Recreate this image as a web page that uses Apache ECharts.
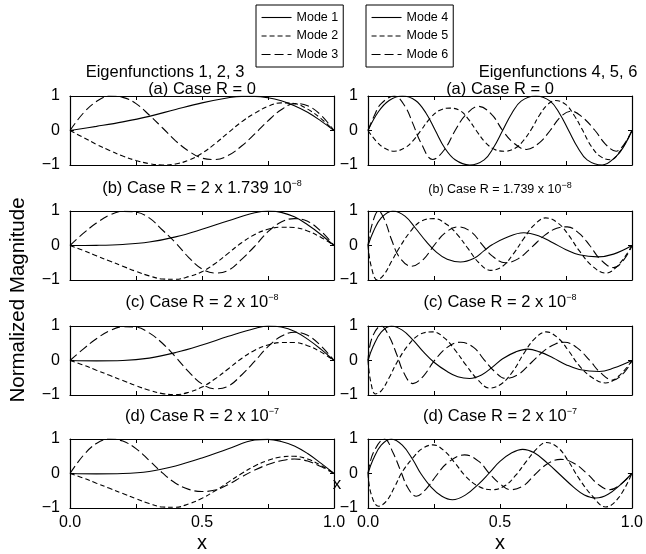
<!DOCTYPE html>
<html>
<head>
<meta charset="utf-8">
<script src="https://cdn.jsdelivr.net/npm/echarts@6/dist/echarts.min.js"></script>
<style>
  html, body { margin: 0; padding: 0; background: #fff; }
  #chart { width: 646px; height: 554px; }
</style>
</head>
<body>
<div id="chart"></div>
<script>
// eigenfunction samples [x, normalized magnitude]

// (a) Case R = 0
const mode1a = [[0,0],[0.1,0.12],[0.2,0.25],[0.3,0.41],[0.4,0.61],[0.5,0.8],[0.6,0.95],[0.65,0.99],[0.7,0.99],[0.75,0.95],[0.8,0.86],[0.85,0.72],[0.9,0.53],[0.95,0.28],[1,0]];
const mode2a = [[0,0],[0.05,-0.2],[0.1,-0.4],[0.15,-0.58],[0.2,-0.74],[0.25,-0.87],[0.3,-0.96],[0.35,-1],[0.4,-0.97],[0.45,-0.86],[0.5,-0.66],[0.55,-0.38],[0.6,-0.06],[0.65,0.25],[0.7,0.5],[0.75,0.7],[0.8,0.8],[0.85,0.78],[0.9,0.62],[0.95,0.35],[1,0]];
const mode3a = [[0,0],[0.05,0.5],[0.1,0.84],[0.15,1],[0.2,0.96],[0.25,0.78],[0.3,0.45],[0.35,0.08],[0.4,-0.3],[0.45,-0.6],[0.5,-0.8],[0.55,-0.84],[0.6,-0.72],[0.65,-0.45],[0.7,-0.1],[0.75,0.28],[0.8,0.6],[0.85,0.78],[0.9,0.72],[0.95,0.45],[1,0]];
const mode4a = [[0,0],[0.04,0.55],[0.08,0.87],[0.13,1],[0.18,0.87],[0.22,0.5],[0.255,0],[0.29,-0.5],[0.33,-0.85],[0.385,-1],[0.44,-0.85],[0.475,-0.5],[0.51,0],[0.545,0.5],[0.58,0.85],[0.635,1],[0.69,0.85],[0.725,0.5],[0.76,0],[0.795,-0.5],[0.83,-0.85],[0.887,-1],[0.94,-0.75],[0.97,-0.45],[1,0]];
const mode5a = [[0,0],[0.03,-0.3],[0.06,-0.5],[0.1,-0.6],[0.14,-0.5],[0.17,-0.3],[0.2,0],[0.235,0.35],[0.27,0.58],[0.31,0.65],[0.35,0.57],[0.38,0.33],[0.41,0],[0.445,-0.35],[0.48,-0.55],[0.52,-0.6],[0.56,-0.5],[0.59,-0.28],[0.62,0.05],[0.65,0.45],[0.68,0.75],[0.71,0.87],[0.75,0.75],[0.78,0.45],[0.81,0.05],[0.845,-0.45],[0.88,-0.75],[0.92,-0.85],[0.955,-0.6],[0.98,-0.3],[1,0]];
const mode6a = [[0,0],[0.025,0.45],[0.05,0.78],[0.1,1],[0.14,0.7],[0.17,0.2],[0.2,-0.35],[0.245,-0.84],[0.29,-0.55],[0.33,0],[0.37,0.45],[0.42,0.7],[0.47,0.45],[0.51,0],[0.55,-0.35],[0.6,-0.55],[0.65,-0.35],[0.69,0],[0.73,0.4],[0.77,0.56],[0.81,0.4],[0.86,0],[0.9,-0.4],[0.94,-0.6],[0.97,-0.4],[1,0]];

// (b) Case R = 2 x 1.739e-8 (left) / 1.739e-8 (right)
const mode1b = [[0,0],[0.1,0.005],[0.2,0.03],[0.3,0.1],[0.4,0.25],[0.5,0.47],[0.6,0.72],[0.7,0.95],[0.75,1],[0.8,0.96],[0.85,0.83],[0.9,0.6],[0.95,0.32],[1,0]];
const mode2b = [[0,0],[0.05,-0.14],[0.1,-0.3],[0.15,-0.45],[0.2,-0.6],[0.25,-0.75],[0.3,-0.88],[0.35,-0.97],[0.4,-0.98],[0.45,-0.9],[0.5,-0.76],[0.55,-0.52],[0.6,-0.22],[0.65,0.08],[0.7,0.32],[0.75,0.47],[0.8,0.53],[0.85,0.52],[0.9,0.42],[0.95,0.24],[1,0]];
const mode3b = [[0,0],[0.05,0.35],[0.1,0.65],[0.15,0.88],[0.2,0.99],[0.25,0.97],[0.3,0.8],[0.35,0.45],[0.4,0.08],[0.45,-0.35],[0.5,-0.68],[0.55,-0.8],[0.6,-0.72],[0.65,-0.4],[0.7,-0.02],[0.75,0.4],[0.8,0.68],[0.85,0.78],[0.9,0.7],[0.95,0.42],[1,0]];
const mode4b = [[0,0],[0.02,0.4],[0.05,0.8],[0.094,1],[0.14,0.85],[0.18,0.5],[0.22,0.12],[0.26,-0.2],[0.3,-0.4],[0.35,-0.48],[0.4,-0.38],[0.44,-0.15],[0.47,0.02],[0.52,0.22],[0.59,0.37],[0.65,0.27],[0.7,0.08],[0.75,-0.12],[0.8,-0.27],[0.87,-0.33],[0.93,-0.25],[1,0]];
const mode5b = [[0,0],[0.012,-0.6],[0.035,-1],[0.06,-0.85],[0.09,-0.45],[0.12,-0.05],[0.16,0.4],[0.2,0.7],[0.25,0.78],[0.3,0.6],[0.34,0.3],[0.38,-0.1],[0.42,-0.5],[0.465,-0.72],[0.51,-0.6],[0.55,-0.25],[0.59,0.2],[0.63,0.6],[0.673,0.8],[0.72,0.65],[0.76,0.3],[0.8,-0.15],[0.85,-0.6],[0.9,-0.8],[0.95,-0.55],[1,0]];
const mode6b = [[0,0],[0.015,0.6],[0.04,1],[0.065,0.7],[0.09,0.15],[0.12,-0.35],[0.165,-0.6],[0.21,-0.4],[0.25,0],[0.29,0.35],[0.34,0.54],[0.39,0.4],[0.43,0.05],[0.47,-0.3],[0.52,-0.5],[0.57,-0.38],[0.62,-0.05],[0.67,0.3],[0.715,0.5],[0.755,0.54],[0.8,0.35],[0.84,0],[0.88,-0.4],[0.93,-0.64],[0.97,-0.4],[1,0]];

// (c) Case R = 2e-8
const mode1c = [[0,0],[0.1,-0.01],[0.2,0],[0.3,0.07],[0.4,0.23],[0.5,0.45],[0.6,0.7],[0.7,0.93],[0.75,1],[0.8,0.97],[0.85,0.85],[0.9,0.62],[0.95,0.33],[1,0]];
const mode2c = [[0,0],[0.05,-0.13],[0.1,-0.28],[0.15,-0.43],[0.2,-0.58],[0.25,-0.73],[0.3,-0.86],[0.35,-0.96],[0.4,-0.99],[0.45,-0.92],[0.5,-0.77],[0.55,-0.53],[0.6,-0.24],[0.65,0.06],[0.7,0.3],[0.75,0.45],[0.8,0.52],[0.85,0.52],[0.9,0.43],[0.95,0.25],[1,0]];
const mode3c = [[0,0],[0.05,0.33],[0.1,0.63],[0.15,0.86],[0.2,0.98],[0.25,0.97],[0.3,0.8],[0.35,0.5],[0.4,0.1],[0.45,-0.33],[0.5,-0.68],[0.55,-0.82],[0.6,-0.74],[0.65,-0.42],[0.7,-0.02],[0.75,0.4],[0.8,0.7],[0.85,0.82],[0.9,0.73],[0.95,0.43],[1,0]];
const mode4c = [[0,0],[0.02,0.42],[0.05,0.82],[0.088,1],[0.13,0.88],[0.17,0.6],[0.21,0.25],[0.25,-0.05],[0.3,-0.32],[0.34,-0.47],[0.385,-0.52],[0.43,-0.42],[0.47,-0.2],[0.51,0.05],[0.56,0.25],[0.605,0.33],[0.65,0.25],[0.7,0.08],[0.75,-0.12],[0.8,-0.26],[0.876,-0.32],[0.93,-0.22],[1,0]];
const mode5c = [[0,0],[0.01,-0.6],[0.028,-0.97],[0.05,-0.88],[0.08,-0.5],[0.11,-0.05],[0.15,0.42],[0.195,0.75],[0.246,0.83],[0.29,0.65],[0.33,0.3],[0.37,-0.12],[0.415,-0.55],[0.46,-0.8],[0.505,-0.68],[0.55,-0.3],[0.59,0.2],[0.63,0.62],[0.675,0.83],[0.72,0.65],[0.76,0.28],[0.8,-0.15],[0.85,-0.5],[0.9,-0.65],[0.95,-0.45],[1,0]];
const mode6c = [[0,0],[0.015,0.65],[0.05,1],[0.08,0.7],[0.11,0.15],[0.135,-0.35],[0.17,-0.67],[0.21,-0.45],[0.25,-0.02],[0.3,0.38],[0.35,0.53],[0.4,0.38],[0.44,0.02],[0.48,-0.32],[0.52,-0.52],[0.57,-0.4],[0.62,-0.05],[0.67,0.3],[0.71,0.48],[0.745,0.53],[0.79,0.38],[0.84,0],[0.88,-0.35],[0.927,-0.57],[0.97,-0.35],[1,0]];

// (d) Case R = 2e-7
const mode1d = [[0,0],[0.1,-0.01],[0.2,0],[0.3,0.06],[0.4,0.22],[0.5,0.45],[0.6,0.72],[0.7,0.97],[0.75,0.99],[0.8,0.93],[0.85,0.8],[0.9,0.58],[0.95,0.3],[1,0]];
const mode2d = [[0,0],[0.05,-0.13],[0.1,-0.28],[0.15,-0.43],[0.2,-0.58],[0.25,-0.73],[0.3,-0.87],[0.35,-0.97],[0.4,-0.98],[0.45,-0.88],[0.5,-0.72],[0.55,-0.5],[0.6,-0.25],[0.65,0],[0.7,0.22],[0.75,0.38],[0.8,0.48],[0.85,0.5],[0.9,0.42],[0.95,0.24],[1,0]];
const mode3d = [[0,0],[0.05,0.52],[0.1,0.87],[0.15,1],[0.2,0.94],[0.25,0.72],[0.3,0.38],[0.35,0.02],[0.4,-0.28],[0.45,-0.46],[0.5,-0.52],[0.55,-0.48],[0.6,-0.32],[0.65,-0.1],[0.7,0.1],[0.75,0.26],[0.8,0.37],[0.85,0.42],[0.9,0.36],[0.95,0.2],[1,0]];
const mode4d = [[0,0],[0.02,0.42],[0.05,0.82],[0.088,1],[0.13,0.82],[0.17,0.4],[0.2,0],[0.24,-0.4],[0.28,-0.66],[0.32,-0.76],[0.37,-0.62],[0.42,-0.3],[0.46,0.02],[0.5,0.35],[0.545,0.6],[0.586,0.7],[0.63,0.6],[0.68,0.3],[0.73,-0.05],[0.78,-0.4],[0.82,-0.62],[0.864,-0.71],[0.91,-0.6],[0.96,-0.3],[1,0]];
const mode5d = [[0,0],[0.012,-0.6],[0.04,-0.95],[0.07,-0.8],[0.1,-0.4],[0.13,0.05],[0.17,0.45],[0.205,0.72],[0.246,0.83],[0.29,0.65],[0.33,0.3],[0.37,-0.08],[0.42,-0.38],[0.47,-0.47],[0.52,-0.35],[0.56,-0.05],[0.6,0.35],[0.64,0.72],[0.675,0.9],[0.72,0.75],[0.76,0.35],[0.8,-0.15],[0.85,-0.65],[0.9,-0.97],[0.95,-0.7],[1,0]];
const mode6d = [[0,0],[0.02,0.6],[0.063,1],[0.095,0.6],[0.125,0.05],[0.15,-0.4],[0.183,-0.66],[0.22,-0.45],[0.26,-0.05],[0.3,0.3],[0.366,0.54],[0.42,0.35],[0.46,0],[0.5,-0.3],[0.54,-0.47],[0.59,-0.35],[0.63,-0.05],[0.68,0.28],[0.73,0.41],[0.78,0.3],[0.83,0],[0.87,-0.3],[0.915,-0.47],[0.96,-0.3],[1,0]];

const leftModes = ['Mode 1', 'Mode 2', 'Mode 3'];
const rightModes = ['Mode 4', 'Mode 5', 'Mode 6'];
const xTickLabels = { 0: '0.0', 0.5: '0.5', 1: '1.0' };
const yTickLabels = { '-1': '\u22121', 0: '0', 1: '1' };

// row by row, left column then right column
const panels = [
  [mode1a, mode2a, mode3a], [mode4a, mode5a, mode6a],
  [mode1b, mode2b, mode3b], [mode4b, mode5b, mode6b],
  [mode1c, mode2c, mode3c], [mode4c, mode5c, mode6c],
  [mode1d, mode2d, mode3d], [mode4d, mode5d, mode6d]
];

const FONT = '"Liberation Sans", Arial, Helvetica, sans-serif';
const colLeft = [70, 368];
const rowTop = [96, 211, 326, 439];
const plotW = 264, plotH = 69;
const dashes = ['solid', [5, 3], [9, 4]];

const chart = echarts.init(document.getElementById('chart'), null, { renderer: 'canvas' });

const grid = [], xAxis = [], yAxis = [], series = [];
const topX = [], rightY = [];
panels.forEach((curves, i) => {
  const r = Math.floor(i / 2), c = i % 2;
  grid.push({ left: colLeft[c], top: rowTop[r], width: plotW, height: plotH, containLabel: false });
  const lastRow = r === 3;
  const tick = { show: true, inside: true, length: 4, lineStyle: { color: '#000', width: 1 } };
  const line = { show: true, onZero: false, lineStyle: { color: '#000', width: 1.2 } };
  xAxis.push({
    gridIndex: i, type: 'value', min: 0, max: 1, interval: 0.25,
    axisLine: line, axisTick: tick, splitLine: { show: false },
    axisLabel: {
      show: lastRow, margin: 7, color: '#000', fontSize: 16, fontFamily: FONT,
      formatter: v => xTickLabels[v] || ''
    }
  });
  topX.push({
    gridIndex: i, type: 'value', position: 'top', min: 0, max: 1, interval: 0.25,
    axisLine: line, axisTick: tick, axisLabel: { show: false }, splitLine: { show: false }
  });
  yAxis.push({
    gridIndex: i, type: 'value', min: -1, max: 1, interval: 1,
    axisLine: line, axisTick: tick, splitLine: { show: false },
    axisLabel: {
      margin: 10, color: '#000', fontSize: 16, fontFamily: FONT,
      formatter: v => yTickLabels[v] || ''
    }
  });
  rightY.push({
    gridIndex: i, type: 'value', position: 'right', min: -1, max: 1, interval: 1,
    axisLine: line, axisTick: tick, axisLabel: { show: false }, splitLine: { show: false }
  });
  const names = c === 0 ? leftModes : rightModes;
  curves.forEach((data, k) => {
    series.push({
      type: 'line', name: names[k], xAxisIndex: i, yAxisIndex: i,
      data: data, smooth: 0.4, symbol: 'none', silent: true,
      lineStyle: { color: '#000', width: 1.1, type: dashes[k] },
      itemStyle: { color: '#000' }
    });
  });
});

// legend: line sample only, the default dot is hidden
const legendBase = {
  orient: 'vertical', top: 5, padding: [6, 5], itemGap: 5.5,
  itemWidth: 30, itemHeight: 14, borderColor: '#000', borderWidth: 1,
  selectedMode: false, backgroundColor: '#fff',
  itemStyle: { opacity: 0, borderWidth: 0 },
  lineStyle: { width: 1.1 },
  textStyle: { color: '#000', fontSize: 12.5, fontFamily: FONT }
};

const sup = { fontSize: 9, fontFamily: FONT, verticalAlign: 'top', lineHeight: 18 };
function title(x, y, text, size) {
  return {
    type: 'text', x: x, y: y,
    style: {
      text: text, fill: '#000', font: size + 'px ' + FONT,
      align: 'center', verticalAlign: 'middle',
      rich: { s: Object.assign({ fill: '#000' }, sup) }
    }
  };
}

const cx = [colLeft[0] + plotW / 2, colLeft[1] + plotW / 2];
const graphic = [
  title(165, 72, 'Eigenfunctions 1, 2, 3', 16.5),
  title(558, 72, 'Eigenfunctions 4, 5, 6', 16.5),
  title(cx[0], 89, '(a) Case R = 0', 16.5),
  title(cx[1], 89, '(a) Case R = 0', 16.5),
  title(cx[0], 188, '(b) Case R = 2 x 1.739 10{s|\u22128}', 16.5),
  title(cx[1], 190, '(b) Case R = 1.739 x 10{s|\u22128}', 12.5),
  title(cx[0], 302, '(c) Case R = 2 x 10{s|\u22128}', 16.5),
  title(cx[1], 302, '(c) Case R = 2 x 10{s|\u22128}', 16.5),
  title(cx[0], 416, '(d) Case R = 2 x 10{s|\u22127}', 16.5),
  title(cx[1], 416, '(d) Case R = 2 x 10{s|\u22127}', 16.5),
  title(cx[0], 543, 'x', 20),
  title(cx[1], 543, 'x', 20),
  title(337, 484, 'x', 17),
  Object.assign(title(18, 300, 'Normalized Magnitude', 20.5), { rotation: Math.PI / 2 })
];

chart.setOption({
  backgroundColor: '#fff',
  animation: false,
  grid: grid,
  xAxis: xAxis.concat(topX),
  yAxis: yAxis.concat(rightY),
  legend: [
    Object.assign({ left: 256, data: leftModes }, legendBase),
    Object.assign({ left: 366, data: rightModes }, legendBase)
  ],
  graphic: graphic,
  series: series
});
</script>
</body>
</html>
